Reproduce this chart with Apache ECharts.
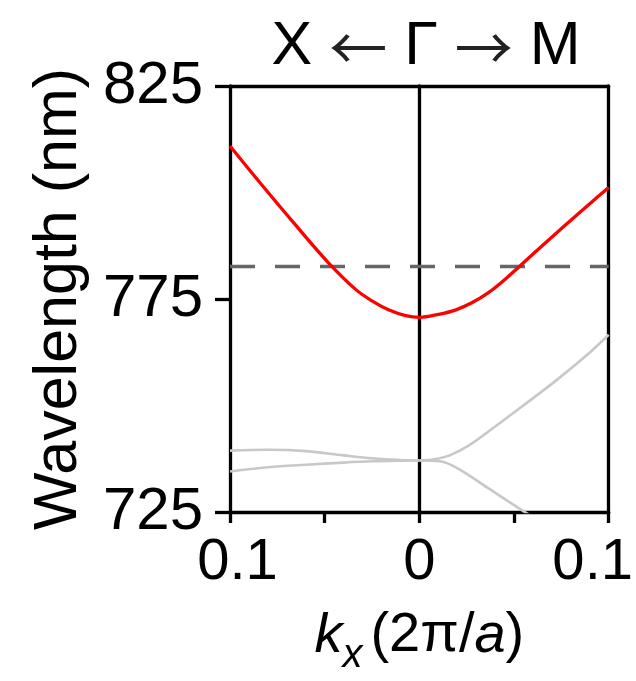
<!DOCTYPE html>
<html>
<head>
<meta charset="utf-8">
<script src="https://cdn.jsdelivr.net/npm/echarts@6/dist/echarts.min.js"></script>
<style>html,body{margin:0;padding:0;background:#fff}#c{width:636px;height:681px}</style>
</head>
<body>
<div id="c"></div>
<script>
// Red band (k in 2π/a, wavelength in nm)
const redK   = [-0.1, -0.0836, -0.066, -0.0486, -0.0335, -0.0248, -0.016, -0.0072, 0, 0.0102, 0.019, 0.0277, 0.0365, 0.0452, 0.0592, 0.0767, 0.0942, 0.1];
const redLam = [810.9, 802.0, 792.7, 783.8, 777.2, 774.5, 772.4, 771.1, 770.7, 771.4, 772.4, 774.1, 776.5, 779.6, 785.2, 792.2, 799.0, 801.2];
// Gray bands, X side (left, negative k)
const grayUpLeftK   = [-0.1, -0.08, -0.06, -0.04, -0.025, -0.01, 0];
const grayUpLeftLam = [739.4, 739.6, 739.3, 738.3, 737.6, 737.2, 737.1];
const grayLoLeftK   = [-0.1, -0.08, -0.06, -0.04, -0.025, -0.01, 0];
const grayLoLeftLam = [734.5, 735.5, 736.1, 736.6, 736.9, 737.05, 737.1];
// Gray bands, M side (right, positive k)
const grayUpRightK   = [0, 0.008, 0.016, 0.026, 0.0374, 0.0549, 0.0723, 0.0899, 0.1];
const grayUpRightLam = [737.1, 737.4, 738.3, 740.6, 744.2, 750.0, 755.9, 762.4, 766.6];
const grayLoRightK   = [0, 0.011, 0.02, 0.0374, 0.0549, 0.06];
const grayLoRightLam = [737.1, 736.9, 735.3, 730.3, 725.2, 723.8];
// Reference (dashed) wavelength
const dashedLam = 782.6;
// Axis ticks
const yTicks = [725, 775, 825];
const xMin = -0.1, xMax = 0.1, xInterval = 0.05;
const yMin = 725, yMax = 825;

function zip(a, b) { return a.map((v, i) => [v, b[i]]); }

const chart = echarts.init(document.getElementById('c'), null, {renderer: 'canvas'});
const FONT = 'Liberation Sans';
const axisStyle = {color: '#000', width: 3.3};

const grayLine = (name, k, l) => ({
  name, type: 'line', data: zip(k, l), smooth: 0.35,
  showSymbol: false, symbol: 'none', clip: true,
  lineStyle: {color: '#c8c8c8', width: 2.6}, z: 3
});

chart.setOption({
  animation: false,
  backgroundColor: '#fff',
  textStyle: {fontFamily: FONT},
  title: {
    text: '{t|X }{a|←}{t| Γ }{a|→}{t| M}',
    left: 421, top: 12, textAlign: 'center',
    textStyle: {
      fontWeight: 'normal',
      rich: {
        t: {fontFamily: FONT, fontSize: 61, fontWeight: 'normal', color: '#000'},
        a: {fontFamily: 'Noto Sans CJK SC', fontSize: 58, fontWeight: 'normal', color: '#222'}
      }
    }
  },
  grid: {left: 230, right: 25, top: 86, bottom: 164, containLabel: false},
  xAxis: [{
    type: 'value', position: 'bottom', min: xMin, max: xMax, interval: xInterval,
    axisLine: {show: true, onZero: false, lineStyle: axisStyle},
    axisTick: {show: true, length: 11, inside: false, lineStyle: axisStyle},
    splitLine: {show: false},
    axisLabel: {
      margin: 22, color: '#000', fontFamily: FONT, fontSize: 58,
      formatter: function (v) {
        if (Math.abs(v) < 1e-9) return '0';
        if (Math.abs(v - xMin) < 1e-9) return '{l|0.1}';
        if (Math.abs(v - xMax) < 1e-9) return '{r|0.1}';
        return '';
      },
      rich: {
        l: {fontFamily: FONT, fontSize: 58, color: '#000', padding: [0, 0, 0, 15]},
        r: {fontFamily: FONT, fontSize: 58, color: '#000', padding: [0, 32, 0, 0]}
      }
    },
    name: '{k|k}{s|x}{n|(2π/}{a|a}{n|)}',
    nameLocation: 'middle', nameGap: 96,
    nameTextStyle: {
      rich: {
        k: {fontFamily: FONT, fontSize: 56, fontStyle: 'italic', color: '#000', lineHeight: 56, verticalAlign: 'top'},
        s: {fontFamily: FONT, fontSize: 40, fontStyle: 'italic', color: '#000', lineHeight: 40, verticalAlign: 'top', padding: [28, 8, 0, 0]},
        n: {fontFamily: FONT, fontSize: 56, color: '#000', lineHeight: 56, verticalAlign: 'top'},
        a: {fontFamily: FONT, fontSize: 56, fontStyle: 'italic', color: '#000', lineHeight: 56, verticalAlign: 'top'}
      }
    }
  }, {
    type: 'value', position: 'top', min: xMin, max: xMax,
    axisLine: {show: true, onZero: false, lineStyle: axisStyle},
    axisTick: {show: false}, axisLabel: {show: false}, splitLine: {show: false}
  }],
  yAxis: [{
    type: 'value', position: 'left', min: yMin, max: yMax,
    axisLine: {show: true, onZero: false, lineStyle: axisStyle},
    axisTick: {show: true, length: 15, inside: false, customValues: yTicks, lineStyle: axisStyle},
    axisLabel: {show: true, customValues: yTicks, margin: 27, color: '#000', fontFamily: FONT, fontSize: 60},
    splitLine: {show: false},
    name: 'Wavelength (nm)', nameLocation: 'middle', nameGap: 140,
    nameTextStyle: {fontFamily: FONT, fontSize: 61, color: '#000'}
  }, {
    type: 'value', position: 'right', min: yMin, max: yMax,
    axisLine: {show: true, onZero: false, lineStyle: axisStyle},
    axisTick: {show: false}, axisLabel: {show: false}, splitLine: {show: false}
  }, {
    type: 'value', position: 'left', min: yMin, max: yMax,
    axisLine: {show: true, onZero: true, onZeroAxisIndex: 0, lineStyle: axisStyle},
    axisTick: {show: false}, axisLabel: {show: false}, splitLine: {show: false}
  }],
  series: [
    grayLine('upLeft', grayUpLeftK, grayUpLeftLam),
    grayLine('loLeft', grayLoLeftK, grayLoLeftLam),
    grayLine('upRight', grayUpRightK, grayUpRightLam),
    grayLine('loRight', grayLoRightK, grayLoRightLam),
    {
      name: 'band', type: 'line', data: zip(redK, redLam), smooth: 0.35,
      showSymbol: false, symbol: 'none', clip: true,
      lineStyle: {color: '#ff0000', width: 3.3}, z: 4,
      markLine: {
        silent: true, symbol: 'none', label: {show: false}, z: 3,
        lineStyle: {color: '#666', width: 3.3, type: [25, 20]},
        data: [{yAxis: dashedLam}]
      }
    }
  ]
});
</script>
</body>
</html>
